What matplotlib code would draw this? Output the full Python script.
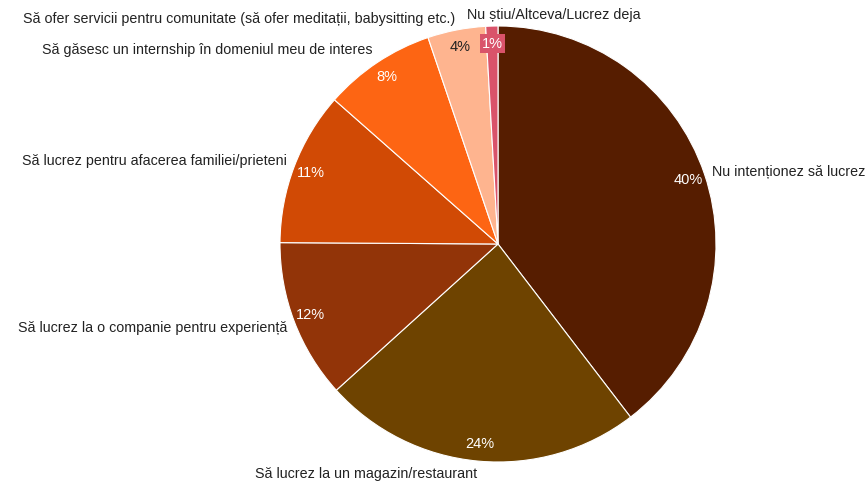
import matplotlib.pyplot as plt
import numpy as np

plt.rcParams['font.family'] = ['Liberation Sans', 'DejaVu Sans']

# answers, clockwise from 12 o'clock
labels = [
    'Nu intenționez să lucrez',
    'Să lucrez la un magazin/restaurant',
    'Să lucrez la o companie pentru experiență',
    'Să lucrez pentru afacerea familiei/prieteni',
    'Să găsesc un internship în domeniul meu de interes',
    'Să ofer servicii pentru comunitate (să ofer meditații, babysitting etc.)',
    'Nu știu/Altceva/Lucrez deja',
]
shares = [39.6, 23.7, 11.8, 11.4, 8.3, 4.3, 0.9]
colors = ['#561d00', '#6e4300', '#923408', '#d14a05', '#fd6513', '#feb48f', '#d9536a']
pct_colors = ['white', 'white', 'white', 'white', 'white', '#222222', 'white']

fig = plt.figure(figsize=(8.66, 4.82), dpi=100)
ax = fig.add_axes([0, 0, 1, 1])

wedges, texts, autotexts = ax.pie(
    shares, labels=labels, colors=colors, startangle=90, counterclock=False,
    autopct=lambda p: '%d%%' % round(p), pctdistance=0.92, labeldistance=1.035,
    wedgeprops=dict(edgecolor='white', linewidth=0.8),
    textprops=dict(fontsize=10.3, color='#222222'))

for t, c in zip(autotexts, pct_colors):
    t.set_color(c)
    t.set_fontsize(10.5)

# tiny slice: label on a coloured box
autotexts[-1].set_bbox(dict(facecolor=colors[-1], edgecolor='none', pad=1.5))

# small vertical nudges of outer labels (in px) so they sit like the original
px = 218.0
nudges = [0, -5, -4, 3, 6, 4, 0]
for t, dy in zip(texts, nudges):
    x, y = t.get_position()
    t.set_position((x, y + dy / px))

# top label sits to the right of the slice
texts[-1].set_horizontalalignment('left')
texts[-1].set_position((-0.14, 1.05))

# pie centre at (498, 244) px, radius 218 px
ax.set_xlim(-498 / px, (866 - 498) / px)
ax.set_ylim(-(482 - 244) / px, 244 / px)
ax.set_aspect('auto')
ax.axis('off')

fig.savefig('out.png', dpi=100)
